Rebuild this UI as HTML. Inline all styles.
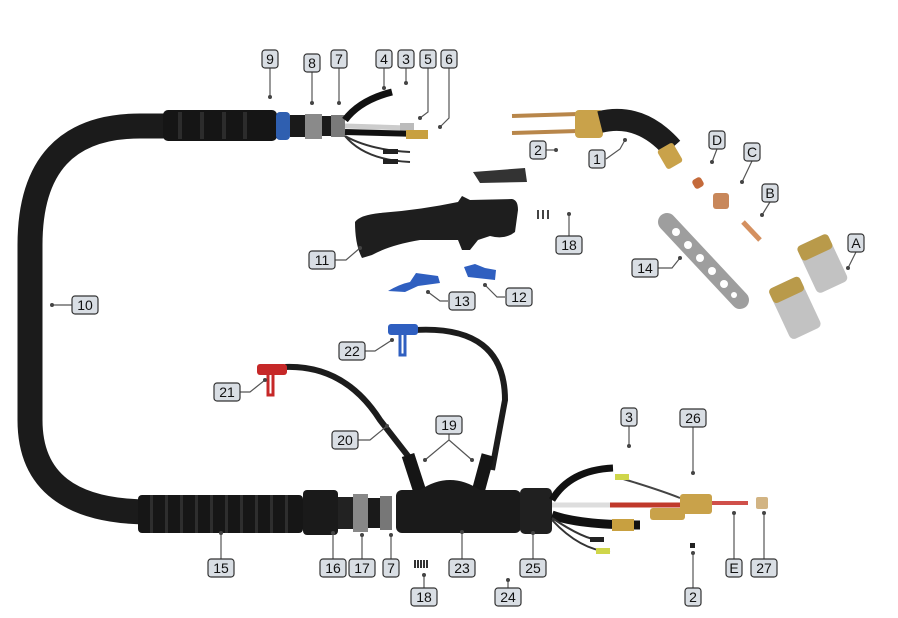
<!DOCTYPE html>
<html><head><meta charset="utf-8"><style>
html,body{margin:0;padding:0;background:#fff}
svg{display:block}
.lb rect{fill:#d9dee4;stroke:#333;stroke-width:1.2}
.lb text{font-family:"Liberation Sans",sans-serif;font-size:14px;fill:#111;text-anchor:middle}
.ld{stroke:#555;stroke-width:1.2;fill:none}
.dt{fill:#444}
</style></head><body>
<svg width="898" height="618" viewBox="0 0 898 618" xmlns="http://www.w3.org/2000/svg">
<!-- main hose -->
<path d="M170,126 L140,126 Q30,126 30,245 L30,420 Q30,512 150,512" stroke="#1b1b1b" stroke-width="25" fill="none"/>
<!-- top handle -->
<rect x="163" y="110" width="114" height="31" rx="5" fill="#151515"/>
<g fill="#2c2c2c"><rect x="178" y="112" width="4" height="27"/><rect x="200" y="112" width="4" height="27"/><rect x="222" y="112" width="4" height="27"/><rect x="243" y="112" width="4" height="27"/></g>
<rect x="276" y="112" width="14" height="28" rx="4" fill="#2f5fb0"/>
<rect x="290" y="115" width="16" height="22" fill="#1a1a1a"/>
<rect x="305" y="114" width="17" height="25" fill="#8a8a8a"/>
<rect x="322" y="116" width="10" height="20" fill="#1a1a1a"/>
<rect x="331" y="115" width="14" height="22" fill="#7a7a7a"/>
<path d="M345,120 Q360,100 392,92" stroke="#111" stroke-width="7" fill="none"/>
<path d="M345,126 L408,128" stroke="#ccc" stroke-width="5"/><rect x="400" y="123" width="14" height="9" fill="#bbb"/>
<path d="M345,132 L420,134" stroke="#111" stroke-width="6"/><rect x="406" y="130" width="22" height="9" fill="#c8a040"/>
<path d="M345,136 Q370,150 410,152 M345,136 Q365,160 410,162" stroke="#333" stroke-width="2" fill="none"/>
<rect x="383" y="149" width="15" height="5" fill="#222"/><rect x="383" y="159" width="15" height="5" fill="#222"/>
<!-- torch neck -->
<path d="M512,116 L578,114 M512,133 L578,131" stroke="#b8864a" stroke-width="4"/>
<rect x="575" y="110" width="28" height="28" rx="4" fill="#c9a24a"/>
<path d="M600,122 Q640,112 672,148" stroke="#1c1c1c" stroke-width="22" fill="none"/>
<rect x="661" y="145" width="18" height="22" rx="3" fill="#c9a24a" transform="rotate(-30 670 156)"/>
<!-- small parts -->
<rect x="693" y="178" width="10" height="10" rx="3" fill="#c46a3a" transform="rotate(-30 698 183)"/>
<rect x="713" y="193" width="16" height="16" rx="3" fill="#c8875a"/>
<path d="M743,222 L760,240" stroke="#d49060" stroke-width="5"/>
<path d="M667,222 L740,300" stroke="#9e9e9e" stroke-width="18" stroke-linecap="round"/>
<g fill="#fff"><circle cx="676" cy="232" r="4"/><circle cx="688" cy="245" r="4"/><circle cx="700" cy="258" r="4"/><circle cx="712" cy="271" r="4"/><circle cx="724" cy="284" r="4"/><circle cx="734" cy="295" r="3"/></g>
<g transform="rotate(-25 822 265)"><rect x="806" y="238" width="34" height="52" rx="5" fill="#c2c2c2"/><rect x="806" y="238" width="34" height="16" rx="4" fill="#b99a4a"/></g>
<g transform="rotate(-25 795 308)"><rect x="778" y="280" width="34" height="56" rx="5" fill="#c2c2c2"/><rect x="778" y="280" width="34" height="16" rx="4" fill="#b99a4a"/></g>
<path d="M473,172 L525,168 L527,182 L480,183 Z" fill="#333"/>
<g fill="#444"><rect x="537" y="210" width="2" height="9"/><rect x="542" y="210" width="2" height="9"/><rect x="547" y="210" width="2" height="9"/></g>
<!-- handle -->
<path d="M355,222 Q360,215 380,213 Q420,210 458,202 L462,196 L470,200 L512,199 Q518,200 518,210 L515,232 Q505,240 490,236 L478,240 L470,250 L462,250 L458,240 L420,240 Q390,245 372,255 L362,258 Q355,245 355,222 Z" fill="#1e1e1e"/>
<!-- clips -->
<path d="M388,291 Q400,284 410,282 L416,273 L438,276 L440,283 L418,286 L405,292 Z" fill="#2f5fc0"/>
<path d="M464,267 L468,277 L495,280 L496,270 L485,268 L475,264 Z" fill="#2f5fc0"/>
<!-- lower cables -->
<path d="M415,330 Q505,325 505,400 L492,470" stroke="#1c1c1c" stroke-width="6" fill="none"/>
<path d="M285,367 Q345,365 380,420 L415,465" stroke="#1c1c1c" stroke-width="6" fill="none"/>
<rect x="388" y="324" width="30" height="11" rx="3" fill="#2f5fc0"/><path d="M400,335 L400,355 L405,355 L405,335" stroke="#2f5fc0" stroke-width="3" fill="none"/>
<rect x="257" y="364" width="30" height="11" rx="3" fill="#c62828"/><path d="M268,375 L268,395 L273,395 L273,375" stroke="#c62828" stroke-width="3" fill="none"/>
<path d="M408,455 L420,492 M488,455 L478,492" stroke="#151515" stroke-width="13"/>
<!-- lower hose -->
<rect x="138" y="495" width="165" height="38" rx="4" fill="#161616"/>
<g fill="#2e2e2e"><rect x="150" y="495" width="3" height="38"/><rect x="165" y="495" width="3" height="38"/><rect x="180" y="495" width="3" height="38"/><rect x="195" y="495" width="3" height="38"/><rect x="210" y="495" width="3" height="38"/><rect x="225" y="495" width="3" height="38"/><rect x="240" y="495" width="3" height="38"/><rect x="255" y="495" width="3" height="38"/><rect x="270" y="495" width="3" height="38"/><rect x="285" y="495" width="3" height="38"/></g>
<rect x="303" y="490" width="35" height="45" rx="4" fill="#1a1a1a"/>
<rect x="338" y="497" width="16" height="32" fill="#222"/>
<rect x="353" y="494" width="15" height="38" fill="#888"/>
<rect x="368" y="498" width="14" height="30" fill="#1a1a1a"/>
<rect x="380" y="496" width="12" height="34" fill="#777"/>
<rect x="396" y="490" width="125" height="43" rx="6" fill="#1a1a1a"/>
<path d="M420,490 Q450,470 480,490 Z" fill="#1a1a1a"/>
<rect x="520" y="488" width="32" height="46" rx="5" fill="#202020"/>
<path d="M552,500 Q570,470 613,468" stroke="#111" stroke-width="7" fill="none"/>
<path d="M552,505 L610,505" stroke="#ddd" stroke-width="5"/>
<path d="M610,505 L700,505" stroke="#c0392b" stroke-width="5"/>
<path d="M552,515 Q580,525 640,525" stroke="#111" stroke-width="9" fill="none"/>
<rect x="612" y="519" width="22" height="12" fill="#c8a040"/>
<path d="M552,518 Q585,540 600,540 M552,520 Q580,550 610,552" stroke="#333" stroke-width="2" fill="none"/>
<rect x="590" y="537" width="14" height="5" fill="#222"/><rect x="596" y="548" width="14" height="6" fill="#cfd64a"/>
<path d="M620,478 Q660,490 680,498" stroke="#444" stroke-width="2" fill="none"/><rect x="615" y="474" width="14" height="6" fill="#cfd64a"/>
<rect x="680" y="494" width="32" height="20" rx="3" fill="#c9a24a"/>
<rect x="650" y="508" width="35" height="12" rx="3" fill="#c9a24a"/>
<path d="M712,503 L748,503" stroke="#d0504a" stroke-width="4"/>
<rect x="756" y="497" width="12" height="12" rx="2" fill="#d2b483"/>
<rect x="690" y="543" width="5" height="5" fill="#222"/>
<!-- leaders -->
<g class="ld">
<path d="M270,68 V97"/><path d="M312,72 V103"/><path d="M339,68 V103"/><path d="M384,68 V88"/><path d="M406,68 V83"/><path d="M428,68 V112 L420,118"/><path d="M449,68 V118 L440,127"/>
<path d="M546,150 H556"/><path d="M606,159 L620,149 L625,140"/><path d="M717,149 L712,162"/><path d="M752,161 L742,182"/><path d="M770,202 L762,215"/><path d="M856,252 L848,268"/>
<path d="M569,236 V214"/><path d="M334,260 H346 L360,248"/><path d="M658,268 H672 L680,258"/><path d="M448,301 H440 L428,292"/><path d="M505,297 H497 L485,285"/>
<path d="M72,305 H52"/><path d="M365,351 H375 L392,340"/><path d="M240,392 H250 L265,380"/><path d="M358,440 H370 L387,426"/>
<path d="M449,434 V440 L425,460 M449,440 L472,460"/><path d="M629,426 V446"/><path d="M693,427 V473"/>
<path d="M221,559 V533"/><path d="M333,559 V533"/><path d="M362,559 V535"/><path d="M391,559 V535"/><path d="M424,588 V575"/><path d="M462,559 V532"/><path d="M508,588 V580"/><path d="M533,559 V533"/><path d="M734,559 V513"/><path d="M764,559 V513"/><path d="M693,588 V553"/>
</g>
<g class="dt">
<circle cx="270" cy="97" r="2"/><circle cx="312" cy="103" r="2"/><circle cx="339" cy="103" r="2"/><circle cx="384" cy="88" r="2"/><circle cx="406" cy="83" r="2"/><circle cx="420" cy="118" r="2"/><circle cx="440" cy="127" r="2"/>
<circle cx="556" cy="150" r="2"/><circle cx="625" cy="140" r="2"/><circle cx="712" cy="162" r="2"/><circle cx="742" cy="182" r="2"/><circle cx="762" cy="215" r="2"/><circle cx="848" cy="268" r="2"/>
<circle cx="569" cy="214" r="2"/><circle cx="360" cy="248" r="2"/><circle cx="680" cy="258" r="2"/><circle cx="428" cy="292" r="2"/><circle cx="485" cy="285" r="2"/>
<circle cx="52" cy="305" r="2"/><circle cx="392" cy="340" r="2"/><circle cx="265" cy="380" r="2"/><circle cx="387" cy="426" r="2"/><circle cx="425" cy="460" r="2"/><circle cx="472" cy="460" r="2"/><circle cx="629" cy="446" r="2"/><circle cx="693" cy="473" r="2"/>
<circle cx="221" cy="533" r="2"/><circle cx="333" cy="533" r="2"/><circle cx="362" cy="535" r="2"/><circle cx="391" cy="535" r="2"/><circle cx="424" cy="575" r="2"/><circle cx="462" cy="532" r="2"/><circle cx="508" cy="580" r="2"/><circle cx="533" cy="533" r="2"/><circle cx="734" cy="513" r="2"/><circle cx="764" cy="513" r="2"/><circle cx="693" cy="553" r="2"/>
</g>
<!-- labels -->
<g class="lb">
<g transform="translate(270,59)"><rect x="-8" y="-9" width="16" height="18" rx="3"/><text y="5">9</text></g>
<g transform="translate(312,63)"><rect x="-8" y="-9" width="16" height="18" rx="3"/><text y="5">8</text></g>
<g transform="translate(339,59)"><rect x="-8" y="-9" width="16" height="18" rx="3"/><text y="5">7</text></g>
<g transform="translate(384,59)"><rect x="-8" y="-9" width="16" height="18" rx="3"/><text y="5">4</text></g>
<g transform="translate(406,59)"><rect x="-8" y="-9" width="16" height="18" rx="3"/><text y="5">3</text></g>
<g transform="translate(428,59)"><rect x="-8" y="-9" width="16" height="18" rx="3"/><text y="5">5</text></g>
<g transform="translate(449,59)"><rect x="-8" y="-9" width="16" height="18" rx="3"/><text y="5">6</text></g>
<g transform="translate(538,150)"><rect x="-8" y="-9" width="16" height="18" rx="3"/><text y="5">2</text></g>
<g transform="translate(597,159)"><rect x="-8" y="-9" width="16" height="18" rx="3"/><text y="5">1</text></g>
<g transform="translate(717,140)"><rect x="-8" y="-9" width="16" height="18" rx="3"/><text y="5">D</text></g>
<g transform="translate(752,152)"><rect x="-8" y="-9" width="16" height="18" rx="3"/><text y="5">C</text></g>
<g transform="translate(770,193)"><rect x="-8" y="-9" width="16" height="18" rx="3"/><text y="5">B</text></g>
<g transform="translate(856,243)"><rect x="-8" y="-9" width="16" height="18" rx="3"/><text y="5">A</text></g>
<g transform="translate(645,268)"><rect x="-13" y="-9" width="26" height="18" rx="3"/><text y="5">14</text></g>
<g transform="translate(569,245)"><rect x="-13" y="-9" width="26" height="18" rx="3"/><text y="5">18</text></g>
<g transform="translate(322,260)"><rect x="-13" y="-9" width="26" height="18" rx="3"/><text y="5">11</text></g>
<g transform="translate(462,301)"><rect x="-13" y="-9" width="26" height="18" rx="3"/><text y="5">13</text></g>
<g transform="translate(519,297)"><rect x="-13" y="-9" width="26" height="18" rx="3"/><text y="5">12</text></g>
<g transform="translate(85,305)"><rect x="-13" y="-9" width="26" height="18" rx="3"/><text y="5">10</text></g>
<g transform="translate(352,351)"><rect x="-13" y="-9" width="26" height="18" rx="3"/><text y="5">22</text></g>
<g transform="translate(227,392)"><rect x="-13" y="-9" width="26" height="18" rx="3"/><text y="5">21</text></g>
<g transform="translate(345,440)"><rect x="-13" y="-9" width="26" height="18" rx="3"/><text y="5">20</text></g>
<g transform="translate(449,425)"><rect x="-13" y="-9" width="26" height="18" rx="3"/><text y="5">19</text></g>
<g transform="translate(629,417)"><rect x="-8" y="-9" width="16" height="18" rx="3"/><text y="5">3</text></g>
<g transform="translate(693,418)"><rect x="-13" y="-9" width="26" height="18" rx="3"/><text y="5">26</text></g>
<g transform="translate(221,568)"><rect x="-13" y="-9" width="26" height="18" rx="3"/><text y="5">15</text></g>
<g transform="translate(333,568)"><rect x="-13" y="-9" width="26" height="18" rx="3"/><text y="5">16</text></g>
<g transform="translate(362,568)"><rect x="-13" y="-9" width="26" height="18" rx="3"/><text y="5">17</text></g>
<g transform="translate(391,568)"><rect x="-8" y="-9" width="16" height="18" rx="3"/><text y="5">7</text></g>
<g transform="translate(424,597)"><rect x="-13" y="-9" width="26" height="18" rx="3"/><text y="5">18</text></g>
<g transform="translate(462,568)"><rect x="-13" y="-9" width="26" height="18" rx="3"/><text y="5">23</text></g>
<g transform="translate(508,597)"><rect x="-13" y="-9" width="26" height="18" rx="3"/><text y="5">24</text></g>
<g transform="translate(533,568)"><rect x="-13" y="-9" width="26" height="18" rx="3"/><text y="5">25</text></g>
<g transform="translate(734,568)"><rect x="-8" y="-9" width="16" height="18" rx="3"/><text y="5">E</text></g>
<g transform="translate(764,568)"><rect x="-13" y="-9" width="26" height="18" rx="3"/><text y="5">27</text></g>
<g transform="translate(693,597)"><rect x="-8" y="-9" width="16" height="18" rx="3"/><text y="5">2</text></g>
</g>
<g fill="#333"><rect x="414" y="560" width="2" height="8"/><rect x="417" y="560" width="2" height="8"/><rect x="420" y="560" width="2" height="8"/><rect x="423" y="560" width="2" height="8"/><rect x="426" y="560" width="2" height="8"/></g>
</svg>
</body></html>
